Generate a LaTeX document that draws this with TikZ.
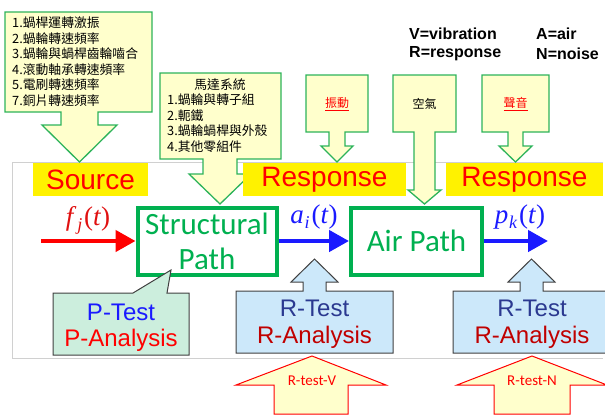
\documentclass[tikz,border=0pt]{standalone}
\usepackage{fontspec}
\setmainfont{Liberation Sans}
\newfontfamily\cjk{Noto Sans CJK TC}
\newfontfamily\calib{Carlito}
\newfontfamily\tnr{Liberation Serif}
\usetikzlibrary{arrows.meta}
\definecolor{cgreen}{HTML}{00B050}
\definecolor{cbgreen}{HTML}{2DB35A}
\definecolor{lyellow}{HTML}{FFFFCC}
\definecolor{cred}{HTML}{FF0000}
\definecolor{fred}{HTML}{E01010}
\definecolor{cblue}{HTML}{1A1AFF}
\definecolor{dblue}{HTML}{2B3990}
\definecolor{dred}{HTML}{C00000}
\definecolor{pgreen}{HTML}{CCEEDD}
\definecolor{pblue}{HTML}{CCE8FA}
\definecolor{framecol}{HTML}{D0D0D0}
\definecolor{edgecol}{HTML}{404040}
\newcommand{\mlab}[2]{{\tnr\fontsize{27}{27}\selectfont\textit{#1}\kern0.8pt\raisebox{-5pt}{\fontsize{18}{18}\selectfont\textit{#2}}\kern1.8pt(\textit{t})}}
\tikzset{
  note/.style={fill=lyellow, draw=cbgreen, line width=1.3pt, line join=miter},
  notetext/.style={inner sep=0pt, font=\cjk\fontsize{12.8}{15.5}\selectfont, align=left},
  big/.style={fill=yellow, inner sep=0pt, text=cred, font=\fontsize{28}{28}\selectfont},
  pathbox/.style={draw=cgreen, line width=4pt, text=cgreen, font=\calib\fontsize{31}{35}\selectfont, align=center, inner sep=0pt, minimum height=67pt},
  testbox/.style={draw=edgecol, line width=1pt, line join=miter},
  testtext/.style={inner sep=0pt, font=\fontsize{24}{24}\selectfont},
  upnote/.style={fill=lyellow, draw=cred, line width=1pt, line join=miter},
  uptext/.style={inner sep=0pt, text=cred, font=\calib\fontsize{15}{15}\selectfont},
  legend/.style={inner sep=0pt, anchor=west, font=\bfseries\fontsize{16}{16}\selectfont},
  flowred/.style={draw=cred, line width=4.5pt, -{Triangle[length=20pt,width=21pt]}},
  flowblue/.style={draw=cblue, line width=4.5pt, -{Triangle[length=20pt,width=21pt]}},
}
\begin{document}
\begin{tikzpicture}[x=1pt,y=-1pt]
\useasboundingbox (0,0) rectangle (605,416);
\clip (0,0) rectangle (605,416);
% faint frame
\draw[framecol, line width=0.8pt] (603,162) -- (12,162) -- (12,358) -- (603,358);

% legend
\node[legend] (lv) at (409,34) {V=vibration};
\node[legend] (lr) at (409,54) {R=response};
\node[legend] (la) at (536,34) {A=air};
\node[legend] (ln) at (536,54) {N=noise};

% source callout
\path[note] (5,12) -- (152,12) -- (152,112) -- (98,112) -- (98,125) -- (117,125) -- (79.5,162) -- (42,125) -- (61,125) -- (61,112) -- (5,112) -- cycle;
\node[notetext, anchor=west] (srclist) at (12,61.5) {1.蝸桿運轉激振\\2.蝸輪轉速頻率\\3.蝸輪與蝸桿齒輪嚙合\\4.滾動軸承轉速頻率\\5.電刷轉速頻率\\7.銅片轉速頻率};

% motor system callout
\path[note] (160,73) -- (281,73) -- (281,159) -- (237,159) -- (237,174) -- (251,174) -- (220,204) -- (189,174) -- (203,174) -- (203,159) -- (160,159) -- cycle;
\node[notetext] (mtitle) at (220,85) {馬達系統};
\node[notetext, anchor=west] (mlist) at (167,123) {1.蝸輪與轉子組\\2.軛鐵\\3.蝸輪蝸桿與外殼\\4.其他零組件};

% small callouts
\path[note] (306,75) -- (368,75) -- (368,132) -- (345,132) -- (345,146) -- (353,146) -- (337,162) -- (321,146) -- (329,146) -- (329,132) -- (306,132) -- cycle;
\node[notetext, text=cred, font=\cjk\fontsize{12}{12}\selectfont] (vib) at (337,104) {\underline{振動}};
\path[note] (393,75) -- (456,75) -- (456,132) -- (435,132) -- (435,190) -- (441,190) -- (424.5,204) -- (408,190) -- (414,190) -- (414,132) -- (393,132) -- cycle;
\node[notetext, font=\cjk\fontsize{12}{12}\selectfont] (air) at (424.5,104) {空氣};
\path[note] (482,75) -- (549,75) -- (549,132) -- (523,132) -- (523,146) -- (532,146) -- (515.5,162) -- (499,146) -- (508,146) -- (508,132) -- (482,132) -- cycle;
\node[notetext, text=cred, font=\cjk\fontsize{12}{12}\selectfont] (snd) at (515.5,104) {\underline{聲音}};

% yellow labels
\node[big, minimum width=115pt, minimum height=33pt] (source) at (90.5,179.5) {Source};
\node[big, minimum width=163pt, minimum height=33pt] (resp1) at (324.5,179.5) {Response};
\node[big, minimum width=157pt, minimum height=33pt] (resp2) at (524.5,179.5) {Response};

% path boxes
\node[pathbox, minimum width=139pt] (sp) at (207,241) {Structural\\Path};
\node[pathbox, minimum width=131pt] (ap) at (416.5,241) {Air Path};

% flow arrows
\coordinate (fin) at (41,241);
\coordinate (pout) at (548,241);
\draw[flowred] (fin) -- (sp.west);
\draw[flowblue] (sp.east) -- (ap.west);
\draw[flowblue] (ap.east) -- (pout);
\node[inner sep=0pt, text=fred] (fj) at (88,220) {\mlab{f}{j}};
\node[inner sep=0pt, text=cblue] (ai) at (314,217) {\mlab{a}{i}};
\node[inner sep=0pt, text=cblue] (pk) at (520,217) {\mlab{p}{k}};

% P-Test callout
\path[testbox, fill=pgreen] (53,293) -- (133,293) -- (171,270) -- (167,293) -- (189,293) -- (189,355) -- (53,355) -- cycle;
\node[testtext, text=cblue] (pt1) at (121,312) {P-Test};
\node[testtext, text=cred] (pt2) at (121,340) {P-Analysis};

% R-Test callouts
\path[testbox, fill=pblue] (236,291) -- (303,291) -- (303,282) -- (291,282) -- (314.5,259) -- (338,282) -- (326,282) -- (326,291) -- (393,291) -- (393,353) -- (236,353) -- cycle;
\node[testtext, text=dblue] (rt1) at (314.5,308) {R-Test};
\node[testtext, text=dred] (ra1) at (314.5,337) {R-Analysis};
\path[testbox, fill=pblue] (453,291) -- (520,291) -- (520,282) -- (508,282) -- (531.5,259) -- (555,282) -- (543,282) -- (543,291) -- (615,291) -- (615,353) -- (453,353) -- cycle;
\node[testtext, text=dblue] (rt2) at (532,308) {R-Test};
\node[testtext, text=dred] (ra2) at (532,337) {R-Analysis};

% bottom up-arrows
\path[upnote] (312,356) -- (386,385) -- (348,385) -- (348,414) -- (274,414) -- (274,385) -- (236,385) -- cycle;
\node[uptext] (rtv) at (312,381) {R-test-V};
\path[upnote] (532,356) -- (607,385) -- (570,385) -- (570,414) -- (494,414) -- (494,385) -- (457,385) -- cycle;
\node[uptext] (rtn) at (532,381) {R-test-N};
\end{tikzpicture}
\end{document}
